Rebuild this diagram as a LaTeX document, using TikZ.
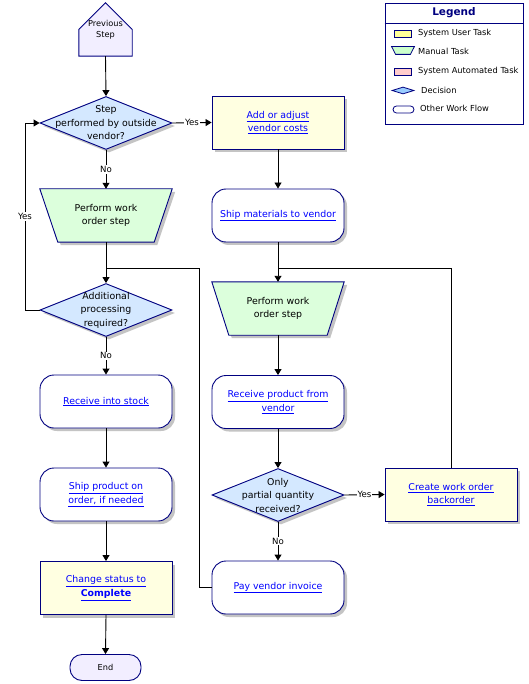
\documentclass[tikz,border=0pt]{standalone}
\usepackage{fontspec}
\setmainfont{DejaVu Sans}
\usetikzlibrary{shapes.geometric,shadows,arrows.meta,calc}
\pgfdeclarelayer{background}
\pgfsetlayers{background,main}
\definecolor{navy}{HTML}{000080}
\definecolor{linkblue}{HTML}{0000FF}
\definecolor{userfill}{HTML}{FFFFE1}
\definecolor{manfill}{HTML}{DCFFDC}
\definecolor{decfill}{HTML}{D4E8FF}
\definecolor{endfill}{HTML}{F2EEFF}
\definecolor{shadowgray}{HTML}{C4C4C4}
\definecolor{iconyellow}{HTML}{FFFF99}
\definecolor{icongreen}{HTML}{CCFFCC}
\definecolor{iconpink}{HTML}{FFCCCC}
\definecolor{iconblue}{HTML}{99CCFF}
\newcommand{\lk}[1]{\underline{#1}}
% trapezoid outline behind a named node: #1 style, #2 node, #3 inset
\newcommand{\trapof}[3]{%
  \begin{pgfonlayer}{background}
  \path[#1] (#2.north west) -- (#2.north east) -- ($(#2.south east)+(-#3,0)$) -- ($(#2.south west)+(#3,0)$) -- cycle;
  \end{pgfonlayer}}
\begin{document}
\begin{tikzpicture}[x=1pt,y=-1pt,
  font=\fontsize{9.4}{13.5}\selectfont,
  sdw/.style={drop shadow={shadow xshift=3pt,shadow yshift=-3pt,fill=shadowgray,opacity=1}},
  base/.style={draw=navy,line width=0.9pt,minimum width=132pt,minimum height=53pt,inner sep=0pt,align=center,sdw},
  usertask/.style={base,rectangle,fill=userfill,text=linkblue},
  flow/.style={base,rectangle,rounded corners=14pt,fill=white,text=linkblue},
  manual/.style={rectangle,minimum width=132pt,minimum height=53pt,inner sep=0pt,align=center},
  manualshape/.style={draw=navy,line width=0.9pt,fill=manfill,sdw},
  decision/.style={base,diamond,fill=decfill},
  dectext/.style={align=center,font=\fontsize{9.4}{13.5}\selectfont},
  arr/.style={-{Triangle[length=6pt,width=7pt]},line width=0.9pt},
  conn/.style={line width=0.9pt},
  lbl/.style={fill=white,inner sep=1pt,font=\fontsize{8.6}{10}\selectfont},
  legtext/.style={anchor=west,inner sep=0pt,font=\fontsize{8.3}{9}\selectfont},
  icon/.style={draw=navy,line width=0.8pt,inner sep=0pt,minimum width=17pt,minimum height=7pt}
]
\useasboundingbox (0,0) rectangle (528,684);
\begin{pgfonlayer}{background}
\fill[white] (0,0) rectangle (528,684);
\end{pgfonlayer}

% Previous step
\node[minimum width=53pt,minimum height=53pt,inner sep=0pt,align=center,font=\fontsize{8.2}{11.5}\selectfont] (prev) at (105.5,29.5) {Previous\\Step};
\begin{pgfonlayer}{background}
\filldraw[draw=navy,fill=endfill,line width=0.9pt] (prev.south west) -- (prev.west) -- (prev.north) -- (prev.east) -- (prev.south east) -- cycle;
\end{pgfonlayer}

% Left column
\node[decision,label={[dectext]center:{Step\\performed by outside\\vendor?}}] (d1) at (106,123) {};
\node[manual] (t1) at (106,215.5) {Perform work\\order step};
\trapof{manualshape}{t1}{18}
\node[decision,label={[dectext]center:{Additional\\processing\\required?}}] (d2) at (106,310) {};
\node[flow] (recv) at (106,401.5) {\lk{Receive into stock}};
\node[flow] (shipprod) at (106,494.5) {\lk{Ship product on}\\\lk{order, if needed}};
\node[usertask] (change) at (106,588) {\lk{Change status to}\\\textbf{\lk{Complete}}};
\node[draw=navy,fill=endfill,line width=0.9pt,rounded corners=12pt,minimum width=71pt,minimum height=26pt,inner sep=0pt,font=\fontsize{8.2}{9}\selectfont] (end) at (105.5,667.5) {End};

% Right column
\node[usertask] (a1) at (278,122.5) {\lk{Add or adjust}\\\lk{vendor costs}};
\node[flow] (shipmat) at (278,215.5) {\lk{Ship materials to vendor}};
\node[manual] (t2) at (278,308.5) {Perform work\\order step};
\trapof{manualshape}{t2}{17}
\node[flow] (recvp) at (278,402) {\lk{Receive product from}\\\lk{vendor}};
\node[decision,label={[dectext]center:{Only\\partial quantity\\received?}}] (d3) at (278,495) {};
\node[usertask] (create) at (451,494.5) {\lk{Create work order}\\\lk{backorder}};
\node[flow] (pay) at (278,587.5) {\lk{Pay vendor invoice}};

% Connectors
\coordinate (j1) at (106,268);
\coordinate (k1) at (199,268);
\coordinate (lp) at (25,310);
\coordinate (j2) at (278,268);

\draw[arr] (prev.south) -- (d1.north);
\draw[arr] (d1.south) -- node[lbl]{No} (t1.north);
\draw[arr] (d1.east) -- node[lbl]{Yes} (a1.west);
\draw[arr] (t1.south) -- (d2.north);
\draw[conn] (pay.west) -| (k1) -- (j1);
\draw[arr] (d2.west) -- (lp) |- node[lbl,pos=0.25]{Yes} (d1.west);
\draw[arr] (d2.south) -- node[lbl]{No} (recv.north);
\draw[arr] (recv.south) -- (shipprod.north);
\draw[arr] (shipprod.south) -- (change.north);
\draw[arr] (change.south) -- (end.north);

\draw[arr] (a1.south) -- (shipmat.north);
\draw[arr] (shipmat.south) -- (t2.north);
\draw[conn] (create.north) |- (j2);
\draw[arr] (t2.south) -- (recvp.north);
\draw[arr] (recvp.south) -- (d3.north);
\draw[arr] (d3.east) -- node[lbl]{Yes} (create.west);
\draw[arr] (d3.south) -- node[lbl]{No} (pay.north);

% Legend
\node[draw=navy,line width=0.9pt,minimum width=138pt,minimum height=121pt,inner sep=0pt] (leg) at (454,63.5) {};
\node[font=\bfseries\fontsize{10.5}{12}\selectfont,text=navy] (legt) at (454,13) {Legend};
\draw[navy,line width=0.9pt] (leg.west |- 0,23) -- (leg.east |- 0,23);
\node[icon,rectangle,fill=iconyellow] (i1) at (402.5,33.5) {};
\node[icon,rectangle,draw=none,minimum width=22pt] (i2) at (403,50.5) {};
\trapof{draw=navy,line width=0.8pt,fill=icongreen}{i2}{4}
\node[icon,rectangle,fill=iconpink] (i3) at (402.5,71.5) {};
\node[icon,diamond,minimum width=22pt,fill=iconblue] (i4) at (403,90.5) {};
\node[icon,rectangle,rounded corners=3.5pt,minimum width=21pt,fill=white] (i5) at (403.5,109.5) {};
\node[legtext] (l1) at (418,33) {System User Task};
\node[legtext] (l2) at (418,51) {Manual Task};
\node[legtext] (l3) at (418,71) {System Automated Task};
\node[legtext] (l4) at (421,90) {Decision};
\node[legtext] (l5) at (420,108) {Other Work Flow};
\end{tikzpicture}
\end{document}
